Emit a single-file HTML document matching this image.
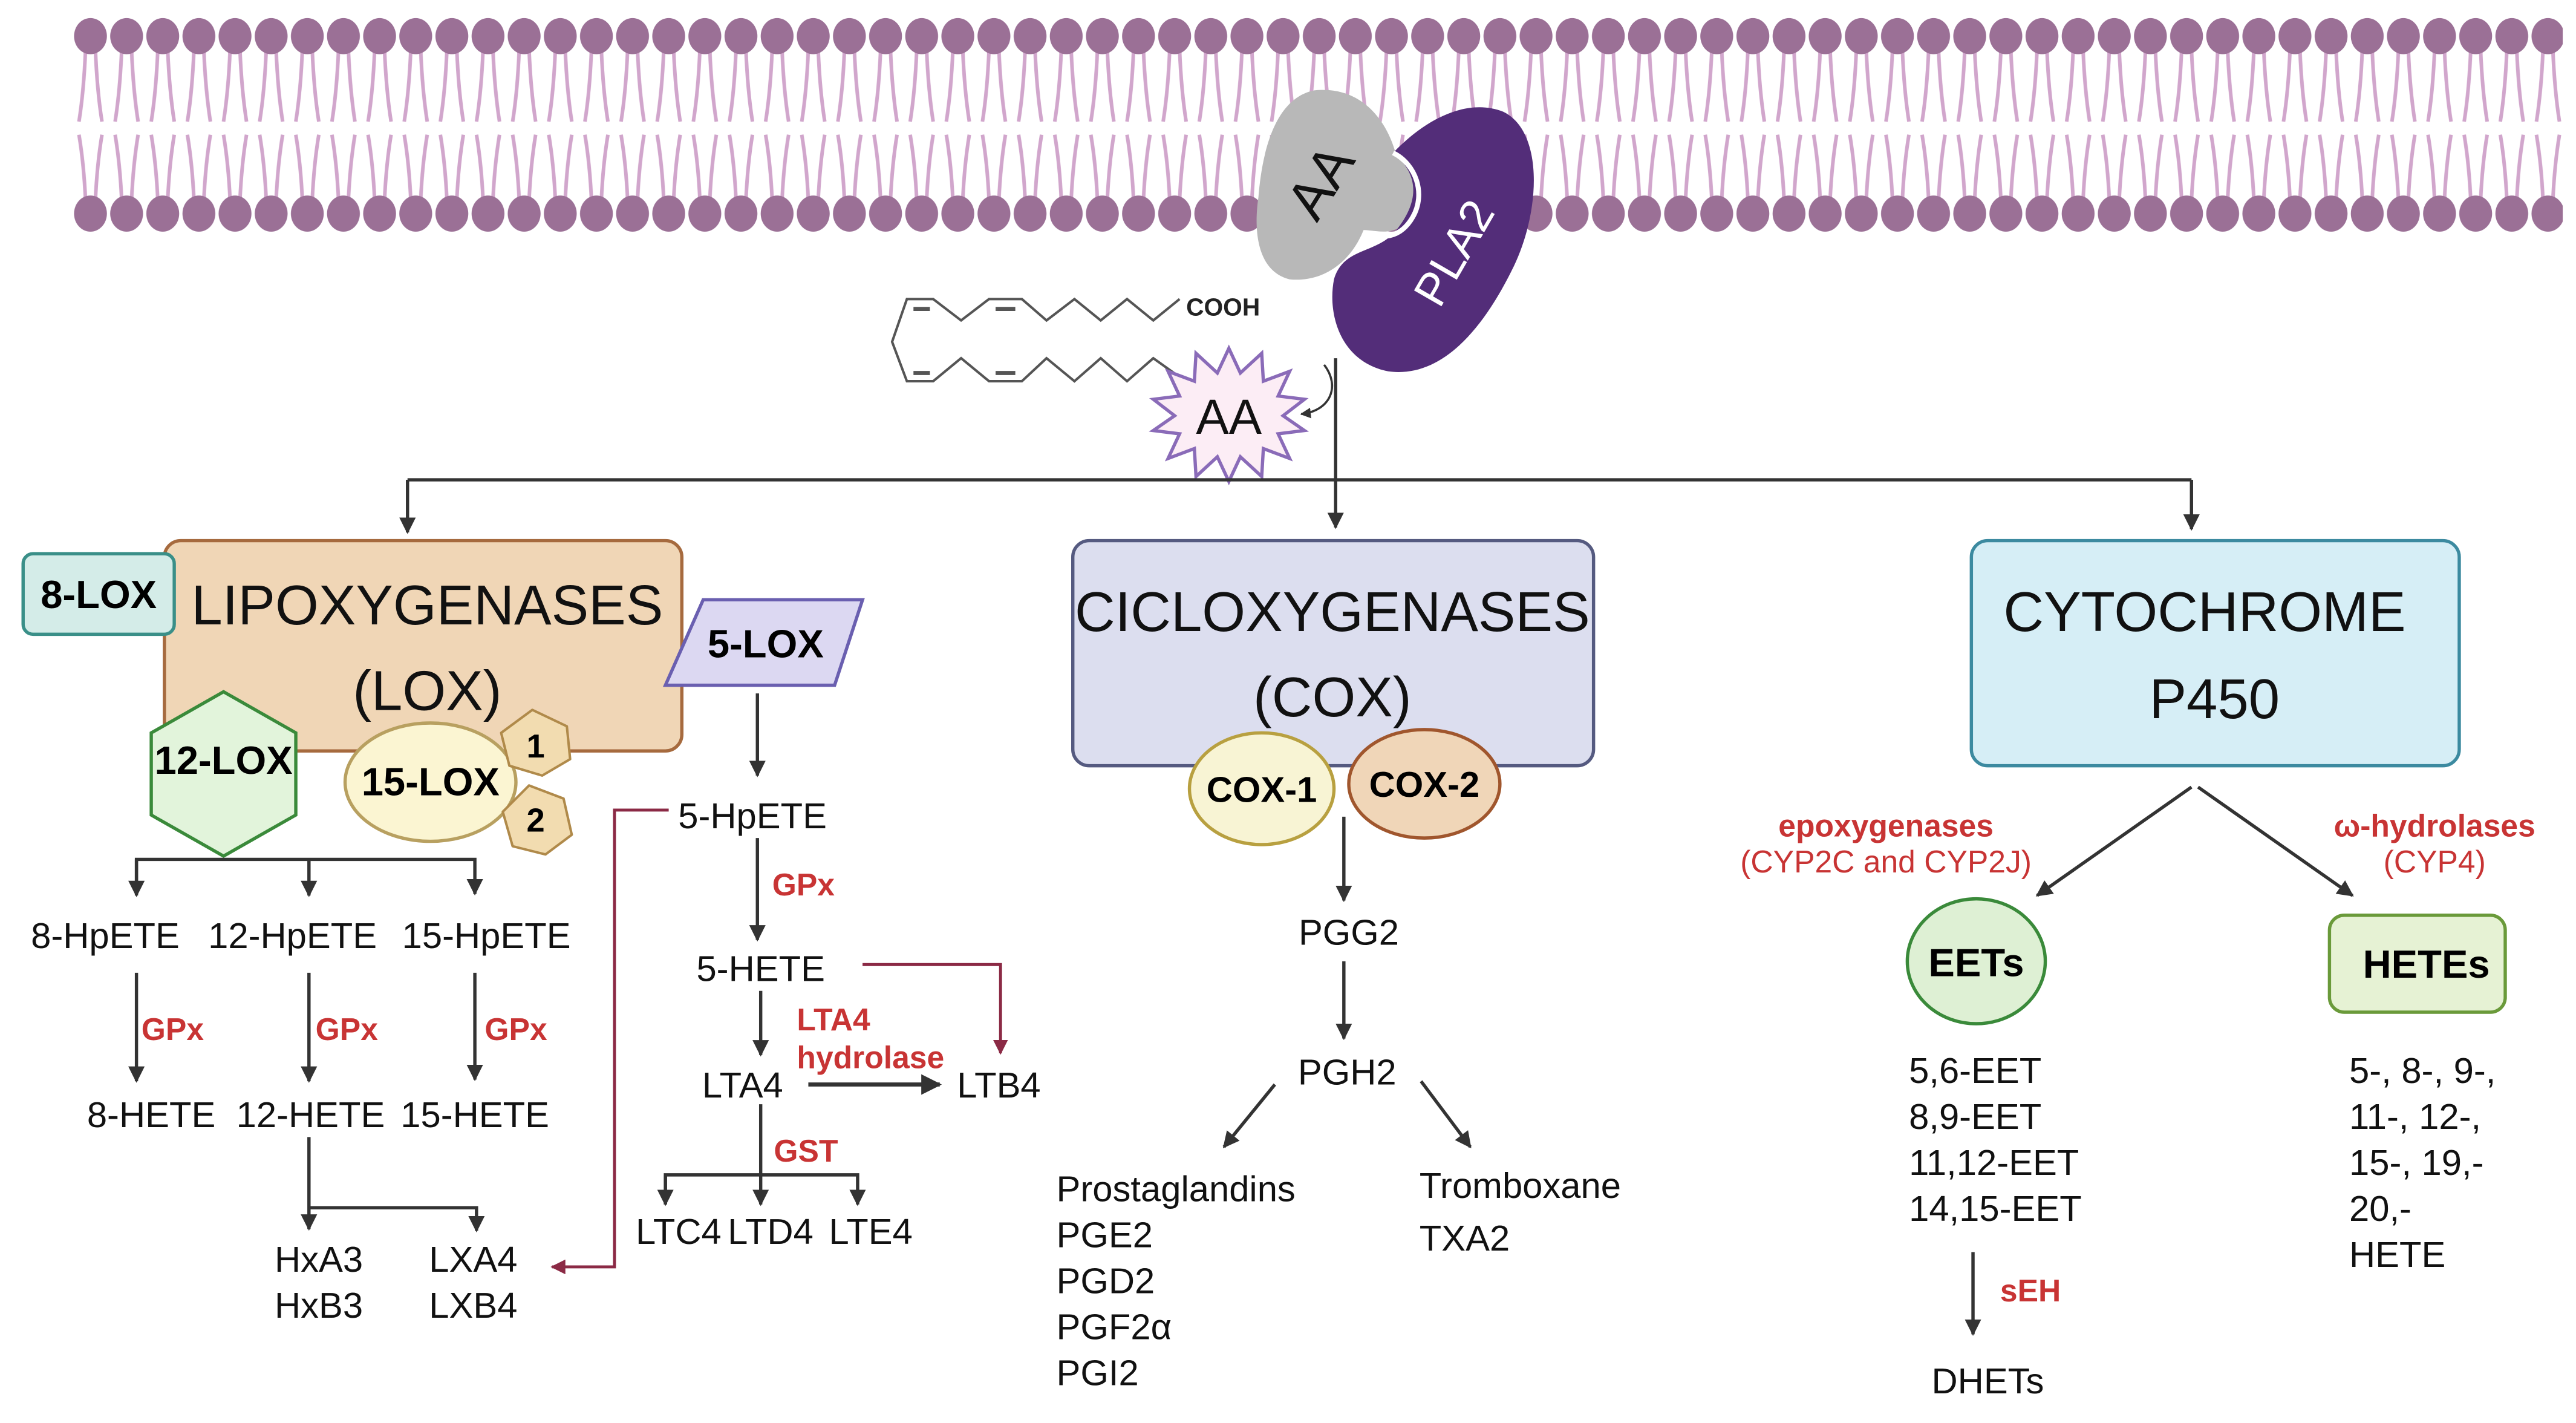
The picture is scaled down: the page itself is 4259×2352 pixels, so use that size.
<!DOCTYPE html>
<html><head><meta charset="utf-8"><style>
html,body{margin:0;padding:0;background:#fff;}
svg{display:block;}
text{font-family:"Liberation Sans",sans-serif;}
</style></head><body>
<svg width="4259" height="2352" viewBox="0 0 1568 866" xmlns="http://www.w3.org/2000/svg">
<defs>
<pattern id="mem" patternUnits="userSpaceOnUse" x="44" y="0" width="22" height="150">
<path d="M8,30 Q7,55 4,74 M14,30 Q15,55 18,74 M4,82 Q7,100 8,122 M18,82 Q15,100 14,122" stroke="#d1a6cc" stroke-width="2.2" fill="none"/>
<ellipse cx="11" cy="22" rx="10" ry="11" fill="#9b7096"/>
<ellipse cx="11" cy="130" rx="10" ry="11" fill="#9b7096"/>
</pattern>
<marker id="ar" viewBox="0 0 10 10" refX="9" refY="5" markerWidth="5" markerHeight="5" orient="auto-start-reverse" markerUnits="strokeWidth"><path d="M0,0 L10,5 L0,10 z" fill="#333"/></marker>
<marker id="arr" viewBox="0 0 10 10" refX="9" refY="5" markerWidth="5" markerHeight="5" orient="auto" markerUnits="strokeWidth"><path d="M0,0 L10,5 L0,10 z" fill="#8b2a45"/></marker>
</defs>
<rect x="44" y="0" width="1516" height="150" fill="url(#mem)"/>

<!-- AA blob -->
<path d="M800,55 C830,52 845,75 850,95 C862,100 866,118 858,132 C850,145 838,140 830,140 C822,160 805,172 785,170 C765,165 763,140 766,120 C768,95 775,60 800,55 Z" fill="#b8b8b8"/>
<text x="806" y="112" font-size="34" text-anchor="middle" transform="rotate(-58 806 112)" fill="#111" dominant-baseline="middle">AA</text>
<!-- PLA2 -->
<path d="M848,93 C870,70 895,60 915,68 C940,80 938,130 920,165 C900,205 875,230 845,226 C815,220 808,190 812,170 C818,150 838,155 850,140 C862,125 866,108 848,93 Z" fill="#532d79"/>
<path d="M848,93 C862,100 868,118 860,132 C852,146 840,145 832,142" fill="none" stroke="#fff" stroke-width="3"/>
<text x="887" y="155" font-size="28" fill="#fff" text-anchor="middle" transform="rotate(-60 887 155)" dominant-baseline="middle">PLA2</text>

<!-- fatty acid -->
<g stroke="#555" stroke-width="1.5" fill="none">
<path d="M718,182 L702,195 L686,182 L670,195 L654,182 L637,195 L622,182 L602,182 L585,195 L568,182 L552,182 L543,208 L552,232 L568,232 L585,218 L602,232 L622,232 L637,218 L654,232 L670,218 L686,232 L702,218 L716,228"/>
<path d="M556,188 L566,188 M606,188 L618,188 M556,227 L566,227 M606,227 L618,227" stroke-width="2.5"/>
</g>
<text x="722" y="192" font-size="15" font-weight="bold" fill="#222">COOH</text>

<!-- star AA -->
<polygon points="748,212 755,227 768,215 769,232 785,226 778,241 794,243 781,253 794,262 778,264 785,279 769,273 768,290 755,278 748,293 741,278 728,290 727,273 711,279 718,264 702,262 715,253 702,243 718,241 711,226 727,232 728,215 741,227" fill="#fcedf5" stroke="#8a6bb8" stroke-width="2"/>
<text x="748" y="264" font-size="30" text-anchor="middle" fill="#111">AA</text>
<path d="M806,222 C816,235 810,250 792,252" stroke="#333" stroke-width="1.3" fill="none" marker-end="url(#ar)"/>

<!-- main connectors -->
<g stroke="#333" stroke-width="2" fill="none">
<path d="M813,218 L813,321" marker-end="url(#ar)"/>
<path d="M248,292 L1334,292"/>
<path d="M248,292 L248,324" marker-end="url(#ar)"/>
<path d="M1334,292 L1334,322" marker-end="url(#ar)"/>
</g>

<!-- LOX box -->
<rect x="100" y="329" width="315" height="128" rx="10" fill="#f0d6b6" stroke="#a66a3e" stroke-width="2"/>
<text x="260" y="380" font-size="34" text-anchor="middle" fill="#111">LIPOXYGENASES</text>
<text x="260" y="432" font-size="34" text-anchor="middle" fill="#111">(LOX)</text>
<rect x="14" y="337" width="92" height="49" rx="6" fill="#d4ece8" stroke="#3a8f88" stroke-width="2"/>
<text x="60" y="370" font-size="24" font-weight="bold" text-anchor="middle">8-LOX</text>
<polygon points="428,365 525,365 508,417 405,417" fill="#dcd8f2" stroke="#6a5fb0" stroke-width="2"/>
<text x="466" y="400" font-size="24" font-weight="bold" text-anchor="middle">5-LOX</text>
<polygon points="136,421 180,446 180,496 136,521 92,496 92,446" fill="#e2f4db" stroke="#3a8a3a" stroke-width="2"/>
<text x="136" y="471" font-size="24" font-weight="bold" text-anchor="middle">12-LOX</text>
<ellipse cx="262" cy="476" rx="52" ry="36" fill="#fbf5d2" stroke="#b8a060" stroke-width="2"/>
<text x="262" y="484" font-size="24" font-weight="bold" text-anchor="middle">15-LOX</text>
<path d="M324,432 L345,442 L347,462 L330,472 L310,466 L305,446 Z" fill="#f2dcb0" stroke="#b08a4a" stroke-width="1.5" stroke-linejoin="round"/>
<text x="326" y="461" font-size="20" font-weight="bold" text-anchor="middle">1</text>
<path d="M322,478 L343,486 L348,508 L332,520 L312,515 L306,494 Z" fill="#f2dcb0" stroke="#b08a4a" stroke-width="1.5" stroke-linejoin="round"/>
<text x="326" y="506" font-size="20" font-weight="bold" text-anchor="middle">2</text>

<g stroke="#333" stroke-width="2" fill="none">
<path d="M83,544 L83,523 L289,523 L289,544" marker-end="url(#ar)"/>
<path d="M83,523 L83,545" marker-end="url(#ar)"/>
<path d="M188,523 L188,545" marker-end="url(#ar)"/>
<path d="M83,592 L83,658" marker-end="url(#ar)"/>
<path d="M188,592 L188,658" marker-end="url(#ar)"/>
<path d="M289,592 L289,657" marker-end="url(#ar)"/>
<path d="M188,692 L188,748" marker-end="url(#ar)"/>
<path d="M188,735 L290,735 L290,749" marker-end="url(#ar)"/>
<path d="M461,422 L461,472" marker-end="url(#ar)"/>
<path d="M461,510 L461,572" marker-end="url(#ar)"/>
<path d="M463,603 L463,642" marker-end="url(#ar)"/>
<path d="M492,660 L572,660" marker-end="url(#ar)" stroke-width="2.5"/>
<path d="M463,672 L463,733" marker-end="url(#ar)"/>
<path d="M405,733 L405,715 L522,715 L522,733" marker-end="url(#ar)"/>
<path d="M405,715 L405,733" marker-end="url(#ar)"/>
</g>
<g stroke="#8b2a45" stroke-width="1.8" fill="none">
<path d="M407,493 L374,493 L374,771 L336,771" marker-end="url(#arr)"/>
<path d="M525,587 L609,587 L609,641" marker-end="url(#arr)"/>
</g>

<g font-size="22" fill="#111" text-anchor="middle">
<text x="64" y="577">8-HpETE</text><text x="178" y="577">12-HpETE</text><text x="296" y="577">15-HpETE</text>
<text x="92" y="686">8-HETE</text><text x="189" y="686">12-HETE</text><text x="289" y="686">15-HETE</text>
<text x="194" y="774">HxA3</text><text x="194" y="802">HxB3</text>
<text x="288" y="774">LXA4</text><text x="288" y="802">LXB4</text>
<text x="458" y="504">5-HpETE</text><text x="463" y="597">5-HETE</text>
<text x="452" y="668">LTA4</text><text x="608" y="668">LTB4</text>
<text x="413" y="757">LTC4</text><text x="469" y="757">LTD4</text><text x="530" y="757">LTE4</text>
</g>
<g font-size="19" font-weight="bold" fill="#c83434">
<text x="86" y="633">GPx</text><text x="192" y="633">GPx</text><text x="295" y="633">GPx</text>
<text x="470" y="545">GPx</text>
<text x="485" y="627">LTA4</text><text x="485" y="650">hydrolase</text>
<text x="471" y="707">GST</text>
</g>

<!-- COX -->
<rect x="653" y="329" width="317" height="137" rx="10" fill="#dcdeef" stroke="#555a80" stroke-width="2"/>
<text x="811" y="384" font-size="34" text-anchor="middle" fill="#111">CICLOXYGENASES</text>
<text x="811" y="436" font-size="34" text-anchor="middle" fill="#111">(COX)</text>
<ellipse cx="768" cy="480" rx="44" ry="34" fill="#f8f4d4" stroke="#b8a040" stroke-width="2"/>
<text x="768" y="488" font-size="22" font-weight="bold" text-anchor="middle">COX-1</text>
<ellipse cx="867" cy="477" rx="46" ry="33" fill="#f0d6b8" stroke="#a0562d" stroke-width="2"/>
<text x="867" y="485" font-size="22" font-weight="bold" text-anchor="middle">COX-2</text>
<g stroke="#333" stroke-width="2" fill="none">
<path d="M818,497 L818,548" marker-end="url(#ar)"/>
<path d="M818,585 L818,632" marker-end="url(#ar)"/>
<path d="M776,660 L745,698" marker-end="url(#ar)"/>
<path d="M865,658 L895,698" marker-end="url(#ar)"/>
</g>
<g font-size="22" fill="#111">
<text x="821" y="575" text-anchor="middle">PGG2</text>
<text x="820" y="660" text-anchor="middle">PGH2</text>
<text x="643" y="731">Prostaglandins</text><text x="643" y="759">PGE2</text><text x="643" y="787">PGD2</text><text x="643" y="815">PGF2α</text><text x="643" y="843">PGI2</text>
<text x="864" y="729">Tromboxane</text><text x="864" y="761">TXA2</text>
</g>

<!-- CYP -->
<rect x="1200" y="329" width="297" height="137" rx="10" fill="#d6eef6" stroke="#3c8aa0" stroke-width="2"/>
<text x="1342" y="384" font-size="34" text-anchor="middle" fill="#111">CYTOCHROME</text>
<text x="1348" y="437" font-size="34" text-anchor="middle" fill="#111">P450</text>
<g stroke="#333" stroke-width="2" fill="none">
<path d="M1334,479 L1240,545" marker-end="url(#ar)"/>
<path d="M1338,479 L1432,545" marker-end="url(#ar)"/>
<path d="M1201,762 L1201,812" marker-end="url(#ar)"/>
</g>
<g fill="#c83434" text-anchor="middle">
<text x="1148" y="509" font-size="19" font-weight="bold">epoxygenases</text>
<text x="1148" y="531" font-size="19">(CYP2C and CYP2J)</text>
<text x="1482" y="509" font-size="19" font-weight="bold">ω-hydrolases</text>
<text x="1482" y="531" font-size="19">(CYP4)</text>
<text x="1236" y="792" font-size="19" font-weight="bold">sEH</text>
</g>
<ellipse cx="1203" cy="585" rx="42" ry="38" fill="#def0d4" stroke="#3a8a3a" stroke-width="2"/>
<text x="1203" y="594" font-size="24" font-weight="bold" text-anchor="middle">EETs</text>
<rect x="1418" y="557" width="107" height="59" rx="9" fill="#e6f2d4" stroke="#6a9a3a" stroke-width="2"/>
<text x="1477" y="595" font-size="24" font-weight="bold" text-anchor="middle">HETEs</text>
<g font-size="22" fill="#111">
<text x="1162" y="659">5,6-EET</text><text x="1162" y="687">8,9-EET</text><text x="1162" y="715">11,12-EET</text><text x="1162" y="743">14,15-EET</text>
<text x="1430" y="659">5-, 8-, 9-,</text><text x="1430" y="687">11-, 12-,</text><text x="1430" y="715">15-, 19,-</text><text x="1430" y="743">20,-</text><text x="1430" y="771">HETE</text>
<text x="1210" y="848" text-anchor="middle">DHETs</text>
</g>
</svg>
</body></html>
